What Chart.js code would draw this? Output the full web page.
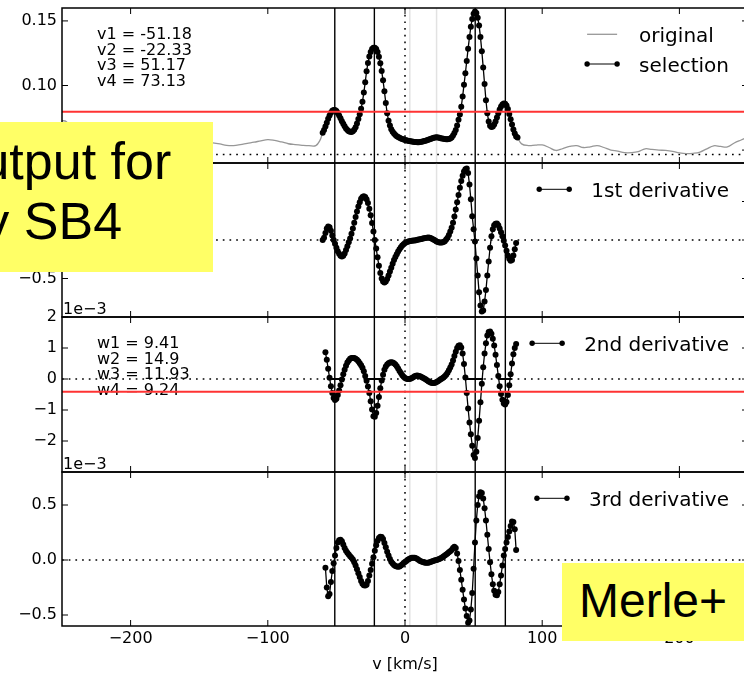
<!DOCTYPE html>
<html>
<head>
<meta charset="utf-8">
<script src="https://cdn.jsdelivr.net/npm/chart.js@4.4.1/dist/chart.umd.min.js"></script>
<style>
  html, body { margin: 0; padding: 0; background: #fff; }
  body { width: 744px; height: 674px; overflow: hidden; position: relative; }
  canvas { position: absolute; left: 0; }
  .note { position: absolute; background: #ffff66; overflow: hidden; color: #000;
          font-family: "Liberation Sans", Arial, sans-serif; white-space: nowrap; z-index: 5; }
  .note span { position: absolute; }
</style>
</head>
<body>
<canvas id="panel0"></canvas>
<canvas id="panel1"></canvas>
<canvas id="panel2"></canvas>
<canvas id="panel3"></canvas>
<div class="note" style="left:0;top:122px;width:213px;height:150px">
  <span style="left:-60px;top:9px;font-size:52px;line-height:60px">Output for<br>toy SB4</span>
</div>
<div class="note" style="left:562px;top:563px;width:190px;height:78px">
  <span style="left:17px;top:14px;font-size:48px;line-height:48px">Merle+</span>
</div>
<script>
// velocity grid of the selected part of the profile [km/s]
const velocity = [
  -60,-59,-58,-57,-56,-55,-54,-53,-52,-51,
  -50,-49,-48,-47,-46,-45,-44,-43,-42,-41,
  -40,-39,-38,-37,-36,-35,-34,-33,-32,-31,
  -30,-29,-28,-27,-26,-25,-24,-23,-22,-21,
  -20,-19,-18,-17,-16,-15,-14,-13,-12,-11,
  -10,-9,-8,-7,-6,-5,-4,-3,-2,-1,
  0,1,2,3,4,5,6,7,8,9,
  10,11,12,13,14,15,16,17,18,19,
  20,21,22,23,24,25,26,27,28,29,
  30,31,32,33,34,35,36,37,38,39,
  40,41,42,43,44,45,46,47,48,49,
  50,51,52,53,54,55,56,57,58,59,
  60,61,62,63,64,65,66,67,68,69,
  70,71,72,73,74,75,76,77,78,79,
  80,81,82
];

// selected profile
const flux = [
  0.0635,0.0655,0.0682,0.0712,0.0742,0.0768,0.0790,0.0804,0.0811,0.0811,
  0.0803,0.0788,0.0768,0.0746,0.0724,0.0703,0.0684,0.0668,0.0655,0.0646,
  0.0641,0.0640,0.0645,0.0657,0.0677,0.0705,0.0740,0.0778,0.0820,0.0875,
  0.0945,0.1025,0.1110,0.1175,0.1225,0.1260,0.1282,0.1292,0.1292,0.1282,
  0.1260,0.1222,0.1172,0.1112,0.1040,0.0955,0.0865,0.0785,0.0728,0.0690,
  0.0662,0.0642,0.0628,0.0617,0.0608,0.0601,0.0595,0.0590,0.0586,0.0582,
  0.0579,0.0576,0.0573,0.0571,0.0569,0.0567,0.0565,0.0563,0.0562,0.0561,
  0.0561,0.0562,0.0564,0.0567,0.0570,0.0573,0.0577,0.0580,0.0584,0.0588,
  0.0592,0.0596,0.0598,0.0599,0.0598,0.0595,0.0592,0.0589,0.0587,0.0585,
  0.0584,0.0584,0.0586,0.0590,0.0598,0.0612,0.0632,0.0655,0.0690,0.0735,
  0.0775,0.0835,0.0915,0.1005,0.1095,0.1190,0.1285,0.1375,0.1455,0.1515,
  0.1555,0.1572,0.1562,0.1525,0.1465,0.1375,0.1265,0.1140,0.1012,0.0885,
  0.0785,0.0722,0.0688,0.0678,0.0682,0.0698,0.0722,0.0752,0.0785,0.0815,
  0.0838,0.0853,0.0860,0.0858,0.0845,0.0818,0.0780,0.0738,0.0698,0.0660,
  0.0628,0.0605,0.0598
];

const deriv1 = [
  0,0.03,0.09,0.15,0.175,0.165,0.12,0.06,0,-0.05,
  -0.1,-0.145,-0.18,-0.205,-0.213,-0.205,-0.175,-0.13,-0.08,-0.03,
  0.02,0.08,0.15,0.225,0.3,0.37,0.435,0.49,0.535,0.56,
  0.568,0.56,0.53,0.48,0.405,0.32,0.22,0.11,0,-0.11,
  -0.225,-0.335,-0.43,-0.5,-0.54,-0.553,-0.54,-0.505,-0.46,-0.41,
  -0.36,-0.31,-0.26,-0.22,-0.185,-0.15,-0.12,-0.095,-0.072,-0.055,
  -0.04,-0.03,-0.022,-0.016,-0.012,-0.01,-0.008,-0.005,-0.002,0.002,
  0.006,0.01,0.014,0.018,0.022,0.026,0.03,0.031,0.028,0.022,
  0.013,0.003,-0.008,-0.018,-0.026,-0.031,-0.033,-0.032,-0.027,-0.015,
  0.005,0.03,0.065,0.11,0.16,0.225,0.305,0.395,0.49,0.585,
  0.68,0.765,0.835,0.89,0.92,0.93,0.87,0.72,0.53,0.31,
  0.14,-0.02,-0.24,-0.46,-0.68,-0.85,-0.93,-0.915,-0.8,-0.65,
  -0.46,-0.28,-0.1,0.05,0.14,0.19,0.212,0.215,0.19,0.15,
  0.1,0.05,-0.01,-0.07,-0.14,-0.2,-0.245,-0.27,-0.26,-0.2,
  -0.12,-0.04,null
];

const deriv2 = [
  null,null,0.86,0.62,0.33,0.04,-0.23,-0.45,-0.61,-0.68,
  -0.64,-0.52,-0.37,-0.2,-0.02,0.15,0.3,0.43,0.53,0.6,
  0.65,0.675,0.68,0.675,0.655,0.62,0.57,0.51,0.44,0.36,
  0.25,0.1,-0.06,-0.24,-0.45,-0.72,-0.98,-1.2,-1.22,-1.1,
  -0.86,-0.58,-0.3,-0.05,0.14,0.3,0.4,0.47,0.51,0.53,
  0.54,0.535,0.51,0.47,0.41,0.34,0.26,0.19,0.12,0.07,
  0.03,0.01,0,0,0.01,0.03,0.06,0.09,0.105,0.11,
  0.1,0.085,0.065,0.04,0.015,-0.01,-0.04,-0.07,-0.1,-0.12,
  -0.13,-0.13,-0.12,-0.1,-0.07,-0.04,-0.01,0.02,0.05,0.09,
  0.14,0.2,0.28,0.37,0.47,0.6,0.74,0.88,1.0,1.07,
  1.09,1.02,0.82,0.48,0.05,-0.45,-0.95,-1.4,-1.78,-2.15,
  -2.45,-2.55,-2.35,-1.9,-1.35,-0.75,-0.15,0.38,0.82,1.15,
  1.4,1.52,1.53,1.46,1.3,1.08,0.78,0.45,0.1,-0.23,
  -0.48,-0.67,-0.79,-0.82,-0.74,-0.52,-0.2,0.15,0.5,0.8,
  1.0,1.13,null
];

const deriv3 = [
  null,null,-0.07,-0.25,-0.33,-0.31,-0.2,-0.1,-0.03,0.04,
  0.11,0.16,0.18,0.185,0.17,0.14,0.11,0.085,0.065,0.05,
  0.035,0.02,0.005,-0.02,-0.05,-0.085,-0.12,-0.155,-0.19,-0.215,
  -0.23,-0.232,-0.225,-0.19,-0.14,-0.09,-0.035,0.025,0.085,0.135,
  0.175,0.2,0.212,0.21,0.19,0.155,0.115,0.075,0.04,0.01,
  -0.015,-0.032,-0.045,-0.055,-0.06,-0.062,-0.058,-0.05,-0.04,-0.028,
  -0.018,-0.008,0.002,0.01,0.016,0.02,0.021,0.02,0.015,0.008,
  0,-0.008,-0.014,-0.019,-0.022,-0.024,-0.025,-0.024,-0.021,-0.017,
  -0.012,-0.007,-0.003,0,0.005,0.01,0.016,0.023,0.031,0.04,
  0.05,0.06,0.07,0.08,0.092,0.108,0.12,0.11,0.06,-0.01,
  -0.09,-0.18,-0.27,-0.36,-0.44,-0.51,-0.57,-0.55,-0.45,-0.3,
  -0.08,0.16,0.36,0.5,0.58,0.615,0.61,0.56,0.47,0.36,
  0.23,0.1,-0.02,-0.13,-0.22,-0.28,-0.315,-0.32,-0.29,-0.22,
  -0.14,-0.05,0.04,0.1,0.16,0.21,0.26,0.31,0.35,0.345,
  0.28,0.09,null
];

// full spectrum outside the selection (null splits the two wings)
const origVelocity = [
  -250,-247,-244,-240,-235,-230,-225,-220,-215,-210,-205,-200,-195,-190,-185,-180,
  -175,-170,-165,-160,-155,-150,-145,-140,-135,-130,-125,-120,-115,-110,-105,-100,
  -95,-90,-85,-80,-75,-70,-65,-62,-60,
  0,
  82,85,90,95,100,105,110,115,120,125,130,135,140,145,150,155,160,165,170,175,
  180,185,190,195,200,205,210,215,220,225,230,235,240,245,250
];
const origFlux = [
  0.0728,0.0722,0.0680,0.0635,0.0600,0.0580,0.0565,0.0555,0.0550,0.0545,0.0552,0.0560,0.0555,0.0545,0.0540,0.0548,
  0.0555,0.0550,0.0542,0.0538,0.0545,0.0555,0.0560,0.0556,0.0548,0.0537,0.0535,0.0542,0.0552,0.0561,0.0572,0.0581,
  0.0575,0.0563,0.0549,0.0542,0.0537,0.0534,0.0535,0.0575,0.0635,
  null,
  0.0598,0.0548,0.0535,0.0538,0.0540,0.0520,0.0497,0.0512,0.0528,0.0535,0.0520,0.0525,0.0535,0.0520,0.0500,0.0492,0.0480,0.0480,0.0488,0.0510,
  0.0505,0.0500,0.0497,0.0490,0.0478,0.0472,0.0475,0.0485,0.0510,0.0533,0.0528,0.0525,0.0555,0.0578,0.0600
];

// fitted components
const compV = [-51.18, -22.33, 51.17, 73.13];
const compW = [9.41, 14.9, 11.93, 9.24];
const restMarks = [3.5, 23];
const fluxThreshold = 0.0796;
const d2Threshold = -0.41;
const fluxFloor = 0.0466;

const velocityTicks = [-200, -100, 0, 100, 200];
const fluxTicks = [0.05, 0.10, 0.15];
const d1Ticks = [-0.5, 0, 0.5];
const d2Ticks = [-2, -1, 0, 1, 2];
const d3Ticks = [-0.5, 0, 0.5];

const panelTop = [8, 163, 317, 472];
const panelBottom = [163, 317, 472, 626];

const pairs = (xs, ys) => xs.map((v, i) => ({ x: v, y: ys[i] }));
const minus = s => s.replace('-', '\u2212');
const tickFont = { family: 'DejaVu Sans', size: 16 };
const selStyle = { borderColor: '#000', borderWidth: 1.3, pointRadius: 3, pointHoverRadius: 0,
                   pointBackgroundColor: '#000', pointBorderWidth: 0 };
const hline = (level, color, width) => ({
  data: [{ x: -250, y: level }, { x: 250, y: level }],
  borderColor: color, borderWidth: width, pointRadius: 0
});

const decor = {
  id: 'decor',
  beforeDatasetsDraw(chart, args, o) {
    const ctx = chart.ctx, a = chart.chartArea, x = chart.scales.x, y = chart.scales.y;
    const vline = v => {
      const px = x.getPixelForValue(v);
      ctx.beginPath(); ctx.moveTo(px, a.top); ctx.lineTo(px, a.bottom); ctx.stroke();
    };
    ctx.save();
    ctx.beginPath(); ctx.rect(a.left, a.top, a.right - a.left, a.bottom - a.top); ctx.clip();
    ctx.fillStyle = '#000';
    ctx.font = '16px "DejaVu Sans"';
    ctx.textAlign = 'left'; ctx.textBaseline = 'alphabetic';
    (o.notes || []).forEach((t, i) => ctx.fillText(t, 97, a.top + 31.2 + i * 15.5));
    ctx.strokeStyle = '#e2e2e2'; ctx.lineWidth = 1.5;
    restMarks.forEach(vline);
    ctx.strokeStyle = '#000'; ctx.lineWidth = 1.5; ctx.setLineDash([1.7, 5]);
    vline(0);
    const py = y.getPixelForValue(o.level);
    ctx.beginPath(); ctx.moveTo(a.left, py); ctx.lineTo(a.right, py); ctx.stroke();
    ctx.setLineDash([]);
    ctx.lineWidth = 1.4;
    compV.forEach(vline);
    ctx.restore();
  },
  afterDraw(chart, args, o) {
    const ctx = chart.ctx, a = chart.chartArea, x = chart.scales.x, y = chart.scales.y;
    const seg = (x0, y0, x1, y1) => { ctx.beginPath(); ctx.moveTo(x0, y0); ctx.lineTo(x1, y1); ctx.stroke(); };
    ctx.save();
    // frame and inward ticks
    ctx.strokeStyle = '#000'; ctx.lineWidth = 1.5;
    ctx.strokeRect(a.left, a.top, a.right - a.left, a.bottom - a.top);
    ctx.lineWidth = 1;
    velocityTicks.forEach(v => {
      const px = x.getPixelForValue(v);
      seg(px, a.top, px, a.top + 6); seg(px, a.bottom - 6, px, a.bottom);
    });
    o.ticks.forEach(v => {
      const py = y.getPixelForValue(v);
      seg(a.left, py, a.left + 6, py); seg(a.right - 6, py, a.right, py);
    });
    // legend, upper right
    ctx.font = '20px "DejaVu Sans"';
    ctx.textAlign = 'left'; ctx.textBaseline = 'alphabetic';
    const wMax = Math.max(...o.legend.map(it => ctx.measureText(it.label).width));
    const tx = 729 - wMax;
    o.legend.forEach((it, i) => {
      const ly = a.top + 26.3 + i * 29.7;
      ctx.strokeStyle = it.color; ctx.lineWidth = it.width;
      seg(tx - 52, ly, tx - 22, ly);
      if (it.dots) {
        ctx.fillStyle = it.color;
        [tx - 52, tx - 22].forEach(px => { ctx.beginPath(); ctx.arc(px, ly, 2.7, 0, Math.PI * 2); ctx.fill(); });
      }
      ctx.fillStyle = '#000';
      ctx.fillText(it.label, tx, ly + 7.5);
    });
    if (o.offset) {
      ctx.font = '16px "DejaVu Sans"';
      ctx.fillText(o.offset, 63, a.top - 3.5);
    }
    ctx.restore();
  }
};

function buildPanel(k, o) {
  const cv = document.getElementById('panel' + k);
  const last = k === 3;
  const top = panelTop[k] - 20;
  const h = (last ? 674 : panelBottom[k] + 20) - top;
  cv.width = 760; cv.height = h;
  cv.style.width = '760px'; cv.style.height = h + 'px';
  cv.style.top = top + 'px';
  return new Chart(cv, {
    type: 'line',
    data: { datasets: o.datasets },
    options: {
      responsive: false,
      animation: false,
      devicePixelRatio: 1,
      layout: { padding: { top: 20, bottom: last ? 0 : 20, left: 0, right: 12 } },
      plugins: { legend: { display: false }, tooltip: { enabled: false }, decor: o.decor },
      scales: {
        x: {
          type: 'linear', min: -250, max: 250, display: last,
          afterBuildTicks: s => { s.ticks = velocityTicks.map(v => ({ value: v })); },
          afterFit: s => { s.height = last ? 48 : 0; },
          ticks: { font: tickFont, color: '#000', padding: 3, maxRotation: 0, autoSkip: false,
                   callback: v => minus(String(v)) },
          grid: { display: false, drawTicks: false },
          border: { display: false },
          title: { display: last, text: 'v [km/s]', font: tickFont, color: '#000', padding: 0 }
        },
        y: {
          type: 'linear', min: o.min, max: o.max,
          afterBuildTicks: s => { s.ticks = o.decor.ticks.map(v => ({ value: v })); },
          afterFit: s => { s.width = 62; },
          ticks: { font: tickFont, color: '#000', padding: 5, autoSkip: false, callback: o.fmt },
          grid: { display: false, drawTicks: false },
          border: { display: false }
        }
      }
    },
    plugins: [decor]
  });
}

const derivLegend = label => [{ label: label, color: '#000', width: 1, dots: true }];

buildPanel(0, {
  min: 0.04, max: 0.16, fmt: v => v.toFixed(2),
  datasets: [
    hline(fluxThreshold, '#ff3333', 2),
    Object.assign({ data: pairs(velocity, flux) }, selStyle),
    { data: pairs(origVelocity, origFlux), borderColor: '#979797', borderWidth: 1.3,
      pointRadius: 0, tension: 0.4 }
  ],
  decor: {
    ticks: fluxTicks, level: fluxFloor,
    notes: compV.map((v, i) => 'v' + (i + 1) + ' = ' + v),
    legend: [
      { label: 'original', color: '#979797', width: 1.3 },
      { label: 'selection', color: '#000', width: 1, dots: true }
    ]
  }
});

buildPanel(1, {
  min: -1, max: 1, fmt: v => minus(v.toFixed(1)),
  datasets: [Object.assign({ data: pairs(velocity, deriv1) }, selStyle)],
  decor: { ticks: d1Ticks, level: 0, legend: derivLegend('1st derivative') }
});

buildPanel(2, {
  min: -3, max: 2, fmt: v => minus(String(v)),
  datasets: [
    hline(d2Threshold, '#ff3333', 2),
    ...compV.map((v, i) => ({
      data: [{ x: v - compW[i] / 2, y: 0 }, { x: v + compW[i] / 2, y: 0 }],
      borderColor: '#000', borderWidth: 2, pointRadius: 0
    })),
    Object.assign({ data: pairs(velocity, deriv2) }, selStyle)
  ],
  decor: {
    ticks: d2Ticks, level: 0, offset: '1e\u22123',
    notes: compW.map((w, i) => 'w' + (i + 1) + ' = ' + w),
    legend: derivLegend('2nd derivative')
  }
});

buildPanel(3, {
  min: -0.6, max: 0.8, fmt: v => minus(v.toFixed(1)),
  datasets: [Object.assign({ data: pairs(velocity, deriv3) }, selStyle)],
  decor: { ticks: d3Ticks, level: 0, offset: '1e\u22123', legend: derivLegend('3rd derivative') }
});
</script>
</body>
</html>
